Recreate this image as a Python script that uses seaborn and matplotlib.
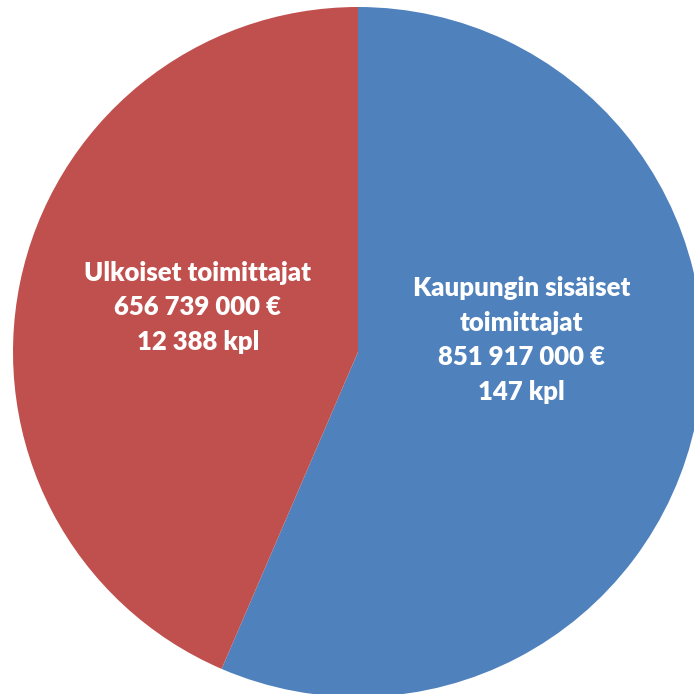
import matplotlib
matplotlib.use("Agg")
import matplotlib.pyplot as plt
import seaborn as sns

# data
suppliers = ["Kaupungin sisäiset\ntoimittajat", "Ulkoiset toimittajat"]
amounts_eur = [851917000, 656739000]
counts_kpl = [147, 12388]
colors = ["#4F81BD", "#C0504D"]


def fmt(n):
    return f"{n:,}".replace(",", " ")


sns.set_theme(style="white")
plt.rcParams['font.family'] = ['Lato', 'DejaVu Sans']

fig = plt.figure(figsize=(6.94, 6.94), dpi=100)
ax = fig.add_axes([0, 0, 1, 1])

wedges, _ = ax.pie(amounts_eur, colors=colors, startangle=90, counterclock=False,
                   radius=1.0, center=(0, 0), wedgeprops={"linewidth": 0})

# label positions (data coords, pie radius = 1)
label_pos = [(0.475, 0.035), (-0.464, 0.13)]
for name, amt, cnt, (x, y) in zip(suppliers, amounts_eur, counts_kpl, label_pos):
    txt = f"{name}\n{fmt(amt)} €\n{fmt(cnt)} kpl"
    ax.text(x, y, txt, ha="center", va="center", color="white",
            fontsize=18.5, fontweight="heavy", linespacing=1.52)

ax.set_xlim(-358 / 345, 336 / 345)
ax.set_ylim(-342 / 345, 352 / 345)
ax.set_aspect("equal")
ax.axis("off")

fig.savefig("out.png", dpi=100)
